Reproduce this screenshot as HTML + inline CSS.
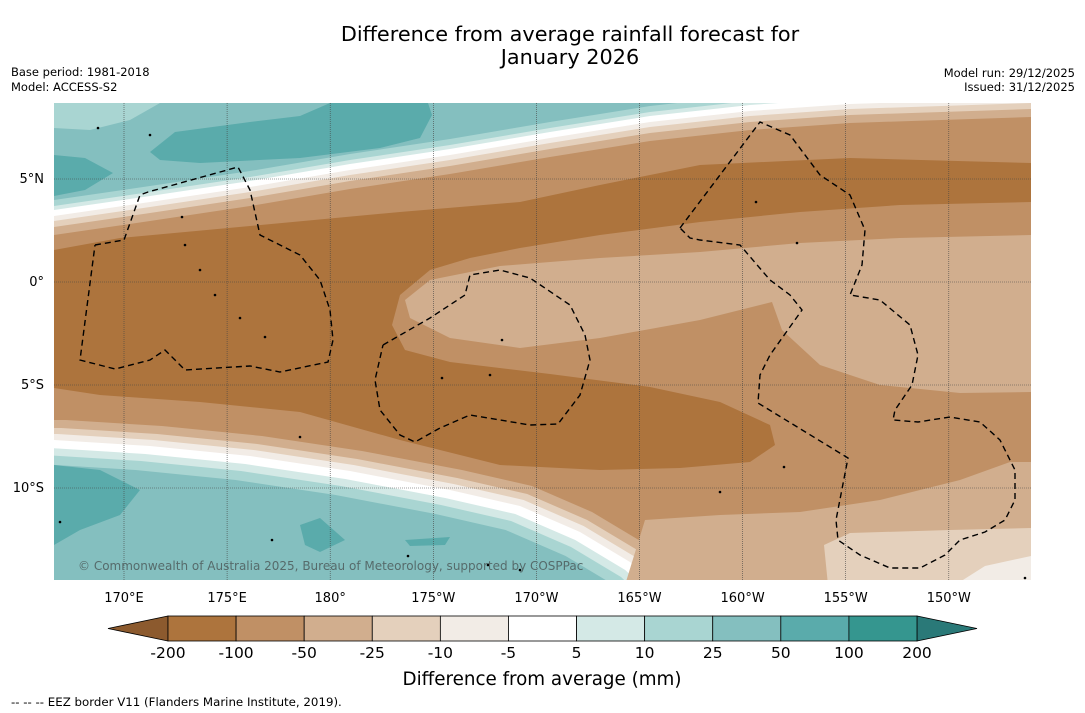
<!DOCTYPE html>
<html><head><meta charset="utf-8"><style>
body{margin:0;background:#fff;width:1085px;height:713px;overflow:hidden;font-family:"DejaVu Sans","Liberation Sans",sans-serif;}
svg{display:block}
</style></head><body>
<svg id="root" width="1085" height="713" xmlns="http://www.w3.org/2000/svg" font-family="DejaVu Sans, Liberation Sans, sans-serif">
<text x="570" y="41" font-size="20.8" text-anchor="middle">Difference from average rainfall forecast for</text>
<text x="570" y="64" font-size="20.8" text-anchor="middle">January 2026</text>
<text x="11" y="76" font-size="11.5">Base period: 1981-2018</text>
<text x="11" y="91" font-size="11.5">Model: ACCESS-S2</text>
<text x="1075" y="77" font-size="11.5" text-anchor="end">Model run: 29/12/2025</text>
<text x="1075" y="91" font-size="11.5" text-anchor="end">Issued: 31/12/2025</text>
<defs><clipPath id="mc"><rect x="54" y="103" width="977" height="477"/></clipPath></defs>
<g id="map" clip-path="url(#mc)"></g>
<g id="axes"></g>
<g id="cbar"></g>
<text x="542" y="685" font-size="18.3" text-anchor="middle">Difference from average (mm)</text>
<text x="11" y="706" font-size="11.8">--  --  -- EEZ border V11 (Flanders Marine Institute, 2019).</text>
</svg>
<script>
const NS="http://www.w3.org/2000/svg";
const levels=["-200","-100","-50","-25","-10","-5","5","10","25","50","100","200"];
const colors=["#ad743d","#c09065","#d1ae8e","#e4d0bc","#f2ece6","#ffffff","#d4e9e6","#a9d5d2","#84bfbf","#5aabab","#35968f"];
const underColor="#8c5a2e", overColor="#2a7978";
const lonLabels=["170°E","175°E","180°","175°W","170°W","165°W","160°W","155°W","150°W"];
const lonValues=[170,175,180,185,190,195,200,205,210];
const latLabels=["5°N","0°","5°S","10°S"];
const latValues=[5,0,-5,-10];
const X=lon=>124+(lon-170)*20.62, Y=lat=>282-lat*20.6;
function mk(tag,attrs,parent){const e=document.createElementNS(NS,tag);for(const k in attrs)e.setAttribute(k,attrs[k]);parent.appendChild(e);return e;}
const map=document.getElementById('map');
const U=[[54,216],[150,202],[250,187],[350,170],[450,155],[550,138],[650,122],[750,111],[850,104],[1031,98]];
const L=[[54,440],[150,446],[250,456],[350,471],[450,490],[520,506],[580,532],[630,562],[665,595]];
function band(ou,ol){let d="M-10,"+(U[0][1]-ou);U.forEach(p=>d+=" L"+p[0]+","+(p[1]-ou));d+=" L1100,"+(U[U.length-1][1]-ou)+" L1100,700 L"+(700-ol)+",700";
 for(let i=L.length-1;i>=0;i--)d+=" L"+(L[i][0]-ol*0.6)+","+(L[i][1]+ol);d+=" L-10,"+(L[0][1]+ol)+" Z";return d;}
function poly(pts){return "M"+pts.map(p=>p.join(",")).join(" L")+" Z";}
function P(d,fill,name){const e=mk('path',{d:d,fill:fill},map);return e;}
mk('rect',{x:54,y:103,width:977,height:477,fill:"#84bfbf"},map);
P(poly([[54,103],[54,128],[90,130],[130,120],[160,103]]),"#a9d5d2","teal-10-25-topleft");
P(poly([[150,152],[175,132],[250,122],[300,116],[330,103],[428,103],[432,115],[420,138],[380,148],[300,158],[200,163],[160,160]]),"#5aabab","teal-50-100-top");
P(poly([[54,155],[85,158],[113,173],[85,190],[54,196]]),"#5aabab","teal-50-100-left");
P(poly([[54,465],[100,470],[140,490],[120,515],[80,530],[54,545]]),"#5aabab","teal-50-100-bottomleft");
P(poly([[300,525],[320,518],[345,540],[320,552],[305,545]]),"#5aabab","teal-patch");
P(poly([[405,540],[450,537],[445,545],[410,546]]),"#5aabab","teal-patch2");
P(poly([[770,103],[840,103],[830,125],[790,130]]),"#a9d5d2","teal-topright");
P(band(16,24),"#a9d5d2","band-10-25");
P(band(10,15),"#d4e9e6","band-5-10");
P(band(6,8),"#ffffff","band-neutral");
P(band(0,0),"#f2ece6","band-minus10");
P(band(-5,-6),"#e4d0bc","band-minus25");
P(band(-11,-12),"#d1ae8e","band-minus50");
P(band(-19,-20),"#c09065","band-minus100");
P(poly([[625,585],[645,520],[720,515],[800,512],[880,500],[960,480],[1010,462],[1031,462],[1031,585]]),"#d1ae8e","band-minus50-br");
P(poly([[828,585],[824,545],[850,533],[950,530],[1031,528],[1031,585]]),"#e4d0bc","band-minus25-br");
P(poly([[955,585],[985,566],[1031,556],[1031,585]]),"#f2ece6","band-minus10-br");
P(poly([[54,250],[120,238],[250,226],[400,212],[520,202],[600,185],[700,165],[850,158],[1031,163],[1031,202],[900,205],[800,212],[700,222],[600,235],[520,248],[470,258],[430,270],[400,295],[392,325],[405,350],[450,362],[550,374],[650,387],[720,402],[770,425],[775,445],[750,462],[680,468],[600,470],[500,465],[400,440],[300,412],[200,402],[100,395],[54,388]]),"#ad743d","core-minus200");
P(poly([[405,300],[430,280],[500,266],[600,258],[700,252],[800,243],[900,238],[1031,235],[1031,392],[960,393],[880,385],[820,365],[782,330],[772,302],[700,320],[600,338],[520,348],[450,338],[410,318]]),"#d1ae8e","light-region-minus50");
lonValues.forEach(v=>{const l=mk('line',{x1:X(v),x2:X(v),y1:103,y2:580,stroke:"#444","stroke-width":0.6,"stroke-dasharray":"1,1"},map);});
latValues.forEach(v=>{const l=mk('line',{x1:54,x2:1031,y1:Y(v),y2:Y(v),stroke:"#444","stroke-width":0.6,"stroke-dasharray":"1,1"},map);});
const eez=[
[[95,245],[124,240],[140,195],[148,192],[238,167],[250,190],[260,235],[300,255],[320,280],[330,310],[333,340],[328,362],[280,372],[250,366],[185,370],[165,350],[150,360],[115,369],[80,360],[95,245]],
[[383,345],[430,318],[465,295],[470,275],[500,270],[530,278],[570,305],[585,335],[590,360],[580,395],[558,424],[530,425],[470,415],[440,428],[415,442],[400,435],[380,410],[375,380],[383,345]],
[[680,228],[720,175],[760,122],[790,135],[820,175],[850,195],[865,230],[862,265],[850,295],[880,300],[910,325],[918,355],[912,385],[895,410],[893,420],[918,422],[950,417],[980,422],[1000,440],[1015,470],[1015,500],[1005,520],[985,532],[960,540],[945,555],[920,568],[890,568],[860,555],[838,540],[836,520],[848,458],[758,403],[760,375],[770,355],[802,310],[790,295],[770,280],[740,245],[700,240],[690,238],[680,228]]];
eez.forEach(pts=>{const e=mk('path',{d:"M"+pts.map(p=>p.join(",")).join(" L"),fill:"none",stroke:"#000","stroke-width":1.4,"stroke-dasharray":"6,4"},map);});
[[185,245],[200,270],[215,295],[240,318],[265,337],[502,340],[442,378],[490,375],[756,202],[797,243],[720,492],[784,467],[60,522],[408,556],[488,565],[520,570],[1025,578],[98,128],[150,135],[182,217],[300,437],[272,540]].forEach(p=>{const c=mk('circle',{cx:p[0],cy:p[1],r:1.3,fill:"#000"},map);});
const ct=mk('text',{x:78,y:570,"font-size":12,fill:"#566b6b"},map);ct.textContent="© Commonwealth of Australia 2025, Bureau of Meteorology, supported by COSPPac";


const axes=document.getElementById('axes');
lonLabels.forEach((t,i)=>{const e=mk('text',{x:X(lonValues[i]),y:602,"font-size":13,"text-anchor":"middle"},axes);e.textContent=t;});
latLabels.forEach((t,i)=>{const e=mk('text',{x:44,y:Y(latValues[i])+4,"font-size":13,"text-anchor":"end"},axes);e.textContent=t;});
const cb=document.getElementById('cbar');const x0=168,x1=917,y0=616,h=25,w=(x1-x0)/colors.length;
const lt=mk('polygon',{points:`108,${y0+h/2} ${x0},${y0} ${x0},${y0+h}`,fill:underColor,stroke:"#000","stroke-width":0.8},cb);

const rt=mk('polygon',{points:`977,${y0+h/2} ${x1},${y0} ${x1},${y0+h}`,fill:overColor,stroke:"#000","stroke-width":0.8},cb);

colors.forEach((c,i)=>{const r=mk('rect',{x:x0+i*w,y:y0,width:w,height:h,fill:c,stroke:"#000","stroke-width":0.8},cb);});
levels.forEach((t,i)=>{const e=mk('text',{x:x0+i*w,y:658,"font-size":15.5,"text-anchor":"middle"},cb);e.textContent=t;});
</script>
</body></html>
